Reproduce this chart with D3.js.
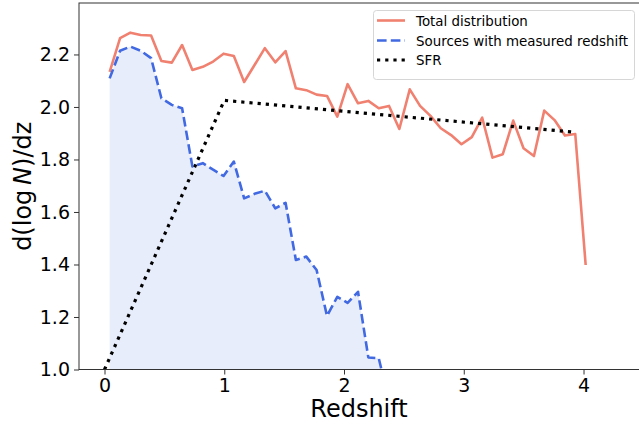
<!DOCTYPE html>
<html>
<head>
<meta charset="utf-8">
<script src="https://cdn.jsdelivr.net/npm/d3@7"></script>
<style>
  html, body { margin: 0; padding: 0; background: #fff; overflow: hidden; }
  svg { display: block; font-family: "DejaVu Sans", sans-serif; }
</style>
</head>
<body>
<svg id="chart" width="639" height="424"></svg>
<script>
// Redshift bin centres
const redshift = [0.043, 0.130, 0.216, 0.302, 0.389, 0.475, 0.562, 0.648, 0.734, 0.821,
  0.907, 0.994, 1.080, 1.166, 1.253, 1.339, 1.426, 1.512, 1.598, 1.685,
  1.771, 1.858, 1.944, 2.030, 2.117, 2.203, 2.290, 2.376, 2.462, 2.549,
  2.635, 2.722, 2.808, 2.894, 2.981, 3.067, 3.154, 3.240, 3.326, 3.413,
  3.499, 3.586, 3.672, 3.758, 3.845, 3.931, 4.018];

// d(log N)/dz for the whole sample
const totalDist = [2.134, 2.262, 2.283, 2.274, 2.272, 2.175, 2.169, 2.236, 2.141, 2.153,
  2.173, 2.203, 2.194, 2.095, 2.160, 2.224, 2.170, 2.213, 2.071, 2.064,
  2.047, 2.042, 1.963, 2.087, 2.014, 2.023, 1.995, 2.004, 1.916, 2.067,
  2.004, 1.966, 1.919, 1.893, 1.858, 1.885, 1.959, 1.807, 1.820, 1.948,
  1.843, 1.813, 1.986, 1.950, 1.891, 1.897, 1.398];

// d(log N)/dz for sources with a measured redshift (first 28 bins)
const measured = [2.109, 2.214, 2.230, 2.214, 2.186, 2.033, 2.008, 1.995, 1.773, 1.786,
  1.761, 1.737, 1.792, 1.652, 1.669, 1.681, 1.614, 1.635, 1.417, 1.430,
  1.379, 1.204, 1.277, 1.254, 1.296, 1.046, 1.043, 0.880];

// Star-formation-rate curve
const sfrZ = [0.0, 1.0, 3.9];
const sfrVal = [1.0, 2.025, 1.905];

const xTicks = [0, 1, 2, 3, 4];
const yTicks = [1.0, 1.2, 1.4, 1.6, 1.8, 2.0, 2.2];

const legendLabels = ["Total distribution", "Sources with measured redshift", "SFR"];

// Layout
const W = 639, H = 424;
const mLeft = 79, mTop = 3, mRight = 641, mBottom = 369.5;

const svg = d3.select("#chart");

const x = d3.scaleLinear().domain([-0.213, 4.48]).range([mLeft, mRight]);
const y = d3.scaleLinear().domain([1.0, 2.396]).range([mBottom, mTop]);

svg.append("defs").append("clipPath").attr("id", "plotClip")
  .append("rect").attr("x", mLeft).attr("y", mTop)
  .attr("width", mRight - mLeft).attr("height", mBottom - mTop);

const plot = svg.append("g").attr("clip-path", "url(#plotClip)");

const measuredPts = measured.map((v, i) => [redshift[i], v]);
const totalPts = totalDist.map((v, i) => [redshift[i], v]);
const sfrPts = sfrVal.map((v, i) => [sfrZ[i], v]);

// shaded area under the measured-redshift curve
plot.append("path")
  .datum(measuredPts)
  .attr("fill", "rgb(232,237,251)")
  .attr("d", d3.area().x(d => x(d[0])).y0(mBottom + 50).y1(d => y(d[1])));

const line = d3.line().x(d => x(d[0])).y(d => y(d[1]));

plot.append("path")
  .datum(totalPts)
  .attr("fill", "none")
  .attr("stroke", "#f08070")
  .attr("stroke-width", 2.6)
  .attr("stroke-linejoin", "round")
  .attr("d", line);

plot.append("path")
  .datum(measuredPts)
  .attr("fill", "none")
  .attr("stroke", "#4169e1")
  .attr("stroke-width", 2.6)
  .attr("stroke-dasharray", "9.6,4.2")
  .attr("stroke-linejoin", "round")
  .attr("d", line);

plot.append("path")
  .datum(sfrPts)
  .attr("fill", "none")
  .attr("stroke", "#000")
  .attr("stroke-width", 3.2)
  .attr("stroke-dasharray", "3.2,5.0")
  .attr("d", line);

// Axes
const xAxis = d3.axisBottom(x).tickValues(xTicks).tickFormat(d3.format("d"))
  .tickSizeInner(5).tickSizeOuter(0).tickPadding(4);
const yAxis = d3.axisLeft(y).tickValues(yTicks).tickFormat(d3.format(".1f"))
  .tickSizeInner(5).tickSizeOuter(0).tickPadding(4);

const gx = svg.append("g").attr("transform", `translate(0,${mBottom})`).call(xAxis);
const gy = svg.append("g").attr("transform", `translate(${mLeft},0)`).call(yAxis);

[gx, gy].forEach(g => {
  g.select(".domain").remove();
  g.selectAll(".tick line").attr("stroke", "#333").attr("stroke-width", 1);
  g.selectAll(".tick text").attr("fill", "#000")
    .style("font-family", "'DejaVu Sans', sans-serif").style("font-size", "19px");
});

// Spines (the right one lies just outside the page)
svg.append("rect")
  .attr("x", mLeft).attr("y", mTop)
  .attr("width", mRight - mLeft).attr("height", mBottom - mTop)
  .attr("fill", "none").attr("stroke", "#333").attr("stroke-width", 1);

// Axis titles
svg.append("text")
  .attr("x", (mLeft + mRight) / 2 - 1).attr("y", 417)
  .attr("text-anchor", "middle")
  .style("font-size", "24px")
  .text("Redshift");

const yl = svg.append("text")
  .attr("transform", `translate(31,${(mTop + mBottom) / 2}) rotate(-90)`)
  .attr("text-anchor", "middle")
  .style("font-size", "24px");
yl.append("tspan").text("d(log\u2009");
yl.append("tspan").style("font-style", "italic").text("N");
yl.append("tspan").text(")/dz");

// Legend
const lg = svg.append("g");
lg.append("rect")
  .attr("x", 373.5).attr("y", 10.5).attr("width", 261).attr("height", 69)
  .attr("rx", 3).attr("fill", "#fff").attr("fill-opacity", 0.85)
  .attr("stroke", "#d6d6d6").attr("stroke-width", 1);

const legendStyles = [
  { stroke: "#f08070", width: 2.6, dash: null },
  { stroke: "#4169e1", width: 2.6, dash: "9.6,4.2" },
  { stroke: "#000", width: 3.2, dash: "3.2,5.0" }
];
const rowY = [20.5, 40.5, 60];
legendLabels.forEach((label, i) => {
  const s = legendStyles[i];
  const ln = lg.append("line")
    .attr("x1", 377).attr("x2", 405)
    .attr("y1", rowY[i]).attr("y2", rowY[i])
    .attr("stroke", s.stroke).attr("stroke-width", s.width);
  if (s.dash) ln.attr("stroke-dasharray", s.dash);
  lg.append("text")
    .attr("x", 416).attr("y", rowY[i] + 5)
    .style("font-size", "13.4px")
    .text(label);
});
</script>
</body>
</html>
